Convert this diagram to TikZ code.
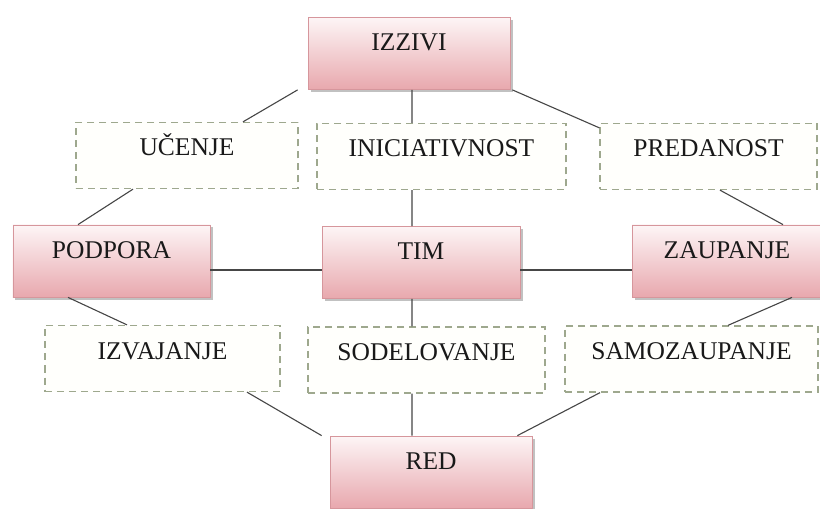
\documentclass[tikz,border=0pt]{standalone}
\usepackage{fontspec}
\setmainfont{Liberation Serif}
\usetikzlibrary{shadows}

\definecolor{pinkTop}{RGB}{253,245,246}
\definecolor{pinkBot}{RGB}{232,168,174}
\definecolor{pinkEdge}{RGB}{214,150,156}
\definecolor{dashEdge}{RGB}{158,168,142}
\definecolor{dashFill}{RGB}{255,255,252}
\definecolor{linkCol}{RGB}{70,70,70}
\definecolor{txtCol}{RGB}{25,25,25}

\tikzset{
  lbl/.style={font=\fontsize{25.5bp}{30bp}\selectfont, text=txtCol,
    inner sep=0pt, align=center},
  mainbox/.style={lbl, rectangle, draw=pinkEdge, line width=0.8bp,
    top color=pinkTop, bottom color=pinkBot, middle color=pinkTop!50!pinkBot,
    text height=33.5bp, text depth=38.5bp,
    drop shadow={shadow xshift=2.5bp, shadow yshift=-2.5bp, opacity=0.4, fill=black!60}},
  dashbox/.style={lbl, rectangle, draw=dashEdge, fill=dashFill, line width=1.3bp,
    dash pattern=on 7bp off 5bp, text height=33.5bp, text depth=32.5bp},
  link/.style={draw=linkCol, line width=1.1bp}
}

\begin{document}
\begin{tikzpicture}[x=1bp, y=-1bp]
  \fill[white] (0,0) rectangle (820,509);
  \useasboundingbox (0,0) rectangle (820,509);

  % main concepts
  \node[mainbox, minimum width=202bp] (izzivi)   at (409,53.5)  {IZZIVI};
  \node[mainbox, minimum width=197bp] (podpora)  at (111.5,261) {PODPORA};
  \node[mainbox, minimum width=198bp] (tim)      at (421,262.5) {TIM};
  \node[mainbox, minimum width=190bp] (zaupanje) at (727,261)   {ZAUPANJE};
  \node[mainbox, minimum width=202bp] (red)      at (431,472)   {RED};

  % linking qualities
  \node[dashbox, minimum width=222bp] (ucenje)       at (187,155.5)   {UČENJE};
  \node[dashbox, minimum width=249bp] (inic)         at (441.5,156.5) {INICIATIVNOST};
  \node[dashbox, minimum width=217bp] (predanost)    at (708.5,156.5) {PREDANOST};
  \node[dashbox, minimum width=235bp] (izvajanje)    at (162.5,358.5) {IZVAJANJE};
  \node[dashbox, minimum width=237bp] (sodelovanje)  at (426.5,360)   {SODELOVANJE};
  \node[dashbox, minimum width=253bp] (samozaupanje) at (691.5,359)   {SAMOZAUPANJE};

  % connectors
  \draw[link] ([xshift=56bp]ucenje.north) -- ([xshift=-10bp]izzivi.south west);
  \draw[link] ([xshift=3bp]izzivi.south) -- ([xshift=-29.5bp]inic.north);
  \draw[link] ([xshift=2bp]izzivi.south east) -- ([yshift=-5bp]predanost.north west);
  \draw[link] ([xshift=11.5bp]predanost.south) -- ([xshift=56bp]zaupanje.north);
  \draw[link] ([xshift=-54bp]ucenje.south) -- ([xshift=-33.5bp]podpora.north);
  \draw[link] ([xshift=-29.5bp]inic.south) -- ([xshift=-9bp]tim.north);
  \draw[link] ([yshift=-9bp]podpora.east) -- ([yshift=-9bp]podpora.east -| tim.west);
  \draw[link] ([yshift=-7.5bp]tim.east) -- ([yshift=-7.5bp]tim.east -| zaupanje.west);
  \draw[link] ([xshift=-43.5bp]podpora.south) -- ([xshift=-35.5bp]izvajanje.north);
  \draw[link] ([xshift=-9bp]tim.south) -- ([xshift=-14.5bp]sodelovanje.north);
  \draw[link] ([xshift=65bp]zaupanje.south) -- ([xshift=36.5bp]samozaupanje.north);
  \draw[link] ([xshift=84.5bp]izvajanje.south) -- ([xshift=-8bp]red.north west);
  \draw[link] ([xshift=-14.5bp]sodelovanje.south) -- ([xshift=-19bp]red.north);
  \draw[link] ([xshift=-91.5bp]samozaupanje.south) -- ([xshift=-15bp]red.north east);
\end{tikzpicture}
\end{document}
